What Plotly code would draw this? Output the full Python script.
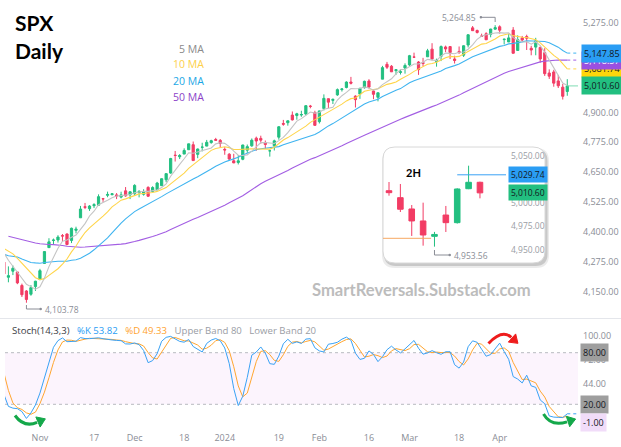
import plotly.graph_objects as go
import pandas as pd
import numpy as np

W, H = 621, 447

# ---------------- data ----------------
# closes before the first OHLC row (Aug 14 - Sep 22, 2023), used for the moving averages
pre_close = [4489.72, 4437.86, 4404.33, 4370.36, 4369.71, 4399.77, 4387.55, 4436.01, 4376.31, 4405.71,
             4433.31, 4497.63, 4514.87, 4507.66, 4515.77, 4496.83, 4465.48, 4451.14, 4457.49, 4487.46,
             4461.90, 4467.44, 4505.10, 4450.32, 4453.53, 4443.95, 4402.20, 4330.00, 4320.06]

# SPX daily OHLC, Sep 25 2023 - Apr 22 2024
opens = [4310.62, 4312.88, 4282.63, 4269.65, 4328.18,
         4284.52, 4282.40, 4233.83, 4259.31, 4234.79, 4289.02, 4339.75, 4366.59, 4380.94, 4360.49, 4342.37, 4345.23, 4357.35, 4321.36, 4273.85,
         4210.40, 4235.79, 4232.42, 4175.99, 4152.93, 4139.39, 4171.33,
         4201.27, 4268.26, 4334.23, 4364.27, 4366.21, 4384.37, 4391.41, 4364.15, 4406.66, 4458.97, 4505.30, 4497.08, 4509.55, 4511.70, 4538.77, 4553.04, 4555.84, 4554.86, 4545.55, 4571.84, 4554.87,
         4559.43, 4564.37, 4557.25, 4586.23, 4568.84, 4576.20, 4593.39, 4618.30, 4646.20, 4721.04, 4714.23, 4725.58, 4743.72, 4764.73, 4724.29, 4753.92, 4758.86, 4773.45, 4786.44, 4782.88,
         4745.20, 4725.07, 4697.42, 4690.57, 4703.70, 4741.93, 4759.94, 4792.13, 4791.18, 4772.35, 4739.13, 4760.10, 4796.28, 4853.42, 4856.80, 4888.56, 4886.66, 4888.91, 4892.95, 4925.89, 4899.19,
         4861.11, 4916.06, 4957.19, 4950.16, 4973.05, 4995.16, 5004.17, 5026.83, 4967.94, 4976.44, 5003.14, 5031.13, 4989.32, 4963.03, 5038.83, 5100.92, 5093.00, 5074.60, 5067.20, 5085.36,
         5098.51, 5130.99, 5110.52, 5108.03, 5132.38, 5164.46, 5111.96, 5134.30, 5173.49, 5175.14, 5123.31, 5154.77, 5139.09, 5181.69, 5253.43, 5242.48, 5219.52, 5228.85, 5226.31, 5248.03,
         5257.97, 5204.29, 5194.37, 5244.05, 5158.95, 5211.37, 5217.03, 5167.88, 5172.95, 5171.51, 5149.67, 5064.59, 5068.97, 5031.52, 5005.44, 4987.33]
highs = [4338.51, 4313.01, 4292.07, 4317.27, 4333.15,
         4300.58, 4282.40, 4268.50, 4267.13, 4324.10, 4341.73, 4385.46, 4378.64, 4385.85, 4377.10, 4383.33, 4393.57, 4364.20, 4339.54, 4276.56,
         4255.84, 4259.38, 4232.42, 4183.60, 4156.70, 4177.47, 4195.55,
         4245.64, 4319.72, 4373.62, 4372.21, 4386.26, 4391.20, 4393.40, 4418.03, 4421.76, 4508.67, 4521.17, 4511.99, 4520.12, 4557.11, 4542.14, 4568.43, 4560.31, 4562.41, 4568.14, 4587.64, 4569.89,
         4599.39, 4574.06, 4578.56, 4590.74, 4590.92, 4609.23, 4623.71, 4643.93, 4709.69, 4738.57, 4725.53, 4749.52, 4768.69, 4778.01, 4748.71, 4772.94, 4784.72, 4785.39, 4793.30, 4788.43,
         4754.33, 4729.29, 4726.78, 4721.49, 4764.54, 4765.47, 4790.80, 4798.50, 4802.40, 4782.34, 4744.23, 4785.79, 4842.07, 4868.41, 4866.48, 4903.68, 4898.15, 4906.69, 4929.31, 4931.09, 4906.75,
         4906.97, 4975.29, 4957.19, 4957.77, 4999.89, 5000.40, 5030.06, 5048.39, 4971.30, 5002.52, 5032.72, 5038.70, 4993.71, 4983.21, 5094.39, 5111.06, 5097.66, 5080.69, 5077.37, 5104.99,
         5140.33, 5149.67, 5114.54, 5127.97, 5165.62, 5189.26, 5124.66, 5179.87, 5179.14, 5176.85, 5136.86, 5175.60, 5180.31, 5226.19, 5261.10, 5246.09, 5229.09, 5235.16, 5249.26, 5264.85,
         5263.95, 5208.34, 5228.75, 5256.59, 5222.18, 5219.57, 5224.81, 5178.43, 5211.78, 5175.03, 5168.43, 5079.84, 5077.96, 5056.66, 5019.02, 5038.84]
lows = [4302.70, 4265.98, 4238.63, 4264.38, 4274.86,
        4260.21, 4216.45, 4220.48, 4225.91, 4219.55, 4283.79, 4339.64, 4345.34, 4325.43, 4311.97, 4342.37, 4337.54, 4303.84, 4269.69, 4223.03,
        4189.22, 4219.43, 4181.42, 4127.90, 4103.78, 4132.94, 4153.12,
        4197.74, 4268.26, 4334.23, 4347.53, 4355.41, 4359.76, 4343.94, 4353.34, 4393.82, 4458.97, 4495.31, 4487.83, 4499.66, 4510.36, 4525.51, 4545.05, 4552.80, 4537.24, 4540.51, 4547.15, 4537.24,
        4554.71, 4544.48, 4551.68, 4546.50, 4565.22, 4574.06, 4593.39, 4608.09, 4643.23, 4694.34, 4704.69, 4725.58, 4743.72, 4697.82, 4708.35, 4736.77, 4758.45, 4768.90, 4780.98, 4751.99,
        4722.67, 4699.71, 4687.53, 4682.11, 4699.82, 4730.35, 4756.20, 4739.58, 4768.98, 4747.12, 4714.82, 4740.57, 4785.87, 4844.05, 4844.37, 4865.94, 4869.34, 4881.47, 4887.40, 4916.95, 4845.15,
        4853.52, 4907.99, 4918.09, 4934.88, 4969.05, 4987.09, 5000.34, 5016.83, 4920.31, 4956.45, 4999.44, 4999.52, 4955.02, 4946.00, 5038.83, 5081.46, 5068.91, 5057.29, 5058.35, 5061.89,
        5094.16, 5127.18, 5056.82, 5092.22, 5131.59, 5117.50, 5091.14, 5114.48, 5151.88, 5123.30, 5104.35, 5145.47, 5131.59, 5171.55, 5240.66, 5229.87, 5216.09, 5203.42, 5213.92, 5245.82,
        5229.20, 5184.05, 5194.37, 5146.06, 5157.21, 5197.35, 5160.78, 5138.70, 5138.77, 5107.94, 5052.47, 5039.83, 5007.25, 5001.89, 4953.56, 4969.40]
closes = [4337.44, 4273.53, 4274.51, 4299.70, 4288.05,
          4288.39, 4229.45, 4263.75, 4258.19, 4308.50, 4335.66, 4358.24, 4376.95, 4349.61, 4327.78, 4373.63, 4373.20, 4314.60, 4278.00, 4224.16,
          4217.04, 4247.68, 4186.77, 4137.23, 4117.37, 4166.82, 4193.80,
          4237.86, 4317.78, 4358.34, 4365.98, 4378.38, 4382.78, 4347.35, 4415.24, 4411.55, 4495.70, 4502.88, 4508.24, 4514.02, 4547.38, 4538.19, 4556.62, 4559.34, 4550.43, 4554.89, 4550.58, 4567.80,
          4594.63, 4569.78, 4567.18, 4549.34, 4585.59, 4604.37, 4622.44, 4643.70, 4707.09, 4719.55, 4719.19, 4740.56, 4768.37, 4698.35, 4746.75, 4754.63, 4774.75, 4781.58, 4783.35, 4769.83,
          4742.83, 4704.81, 4688.68, 4697.24, 4763.54, 4756.50, 4783.45, 4780.24, 4783.83, 4765.98, 4739.21, 4780.94, 4839.81, 4850.43, 4864.60, 4868.55, 4894.16, 4890.97, 4927.93, 4924.97, 4845.65,
          4906.19, 4958.61, 4942.81, 4954.23, 4995.06, 4997.91, 5026.61, 5021.84, 4953.17, 5000.62, 5029.73, 5005.57, 4975.51, 4981.80, 5087.03, 5088.80, 5069.53, 5078.18, 5069.76, 5096.27,
          5137.08, 5130.95, 5078.65, 5104.76, 5157.36, 5123.69, 5117.94, 5175.27, 5165.31, 5150.48, 5117.09, 5149.42, 5178.51, 5224.62, 5241.53, 5234.18, 5218.19, 5203.58, 5248.49, 5254.35,
          5243.77, 5205.81, 5211.49, 5147.21, 5204.34, 5202.39, 5209.91, 5160.64, 5199.06, 5123.41, 5061.82, 5051.41, 5022.21, 5011.12, 4967.23, 5010.60]

holidays = ['2023-11-23', '2023-12-25', '2024-01-01', '2024-01-15', '2024-02-19', '2024-03-29']
dates = [d.strftime('%Y-%m-%d') for d in pd.bdate_range('2023-09-25', '2024-04-22')
         if d.strftime('%Y-%m-%d') not in holidays]
N_PRE = 20  # sessions before Oct 23 2023 (first session drawn in full)

tick_dates = ['2023-11-01', '2023-11-17', '2023-12-01', '2023-12-18', '2024-01-02', '2024-01-19',
              '2024-02-01', '2024-02-16', '2024-03-01', '2024-03-18', '2024-04-01']
tick_text = ['Nov', '17', 'Dec', '18', '2024', '19', 'Feb', '16', 'Mar', '18', 'Apr']

price_ticks = [4150, 4275, 4400, 4525, 4650, 4775, 4900, 5275]
stoch_ticks = [100, 72, 44]
stoch_bands = [80, 20]
stoch_mark = -1.0

ma_periods = [50, 20, 10, 5]
ma_colors = {5: '#c4c4c4', 10: '#ffd54a', 20: '#3fb4f0', 50: '#a35ee3'}
ma_label_colors = {5: '#8a8a8a', 10: '#fdd048', 20: '#1ba7e6', 50: '#8c3fc8'}

# 2H inset
h2_open = [5012.9, 5005.5, 4993.5, 4980.8, 4964.5, 4987.1, 4979.0, 5015.0, 5021.8]
h2_high = [5022.1, 5020.0, 4997.7, 5000.2, 4969.2, 4996.7, 5015.5, 5039.4, 5022.5]
h2_low = [5007.6, 4990.3, 4964.9, 4954.6, 4953.56, 4969.1, 4978.0, 5014.5, 5004.8]
h2_close = [5010.8, 4993.2, 4980.8, 4965.9, 4966.5, 4979.0, 5014.7, 5021.8, 5010.60]
h2_ticks = [4950, 4975, 5000, 5050]
h2_level_blue = 5029.74
h2_level_orange = 4962.4

GREEN = '#22bf80'
RED = '#f23c64'

# ---------------- derived ----------------
assert len(dates) == len(opens) == len(highs) == len(lows) == len(closes)
xi = np.arange(len(dates)) - N_PRE
c_all = pd.Series(pre_close + closes)
ma = {n: c_all.rolling(n).mean().iloc[len(pre_close):].to_numpy() for n in ma_periods}

hs, ls, cs = pd.Series(highs), pd.Series(lows), pd.Series(closes)
raw = 100 * (cs - ls.rolling(14).min()) / (hs.rolling(14).max() - ls.rolling(14).min())
k_line = raw.rolling(3).mean()
d_line = k_line.rolling(3).mean()

tick_idx = [dates.index(d) - N_PRE for d in tick_dates]

# ---------------- pixel geometry ----------------
X_PLOT0, X_PLOT1 = 5, 578          # plot area left/right (px)
BAR0_PX, BAR_DX = 8.4, 4.507       # px of first full session and px per session
P_TOP, P_BOT = 0, 318              # price pane (px)
S_TOP, S_BOT = 319, 428            # stochastic pane (px)
P_REF, P_REF_PX, P_SC = 5275, 22.7, 0.2391
S_REF, S_REF_PX, S_SC = 80, 352.7, 0.86
x_range = [(X_PLOT0 - BAR0_PX) / BAR_DX, (X_PLOT1 - BAR0_PX) / BAR_DX]
y_range = [P_REF - (P_BOT - P_REF_PX) / P_SC, P_REF + (P_REF_PX - P_TOP) / P_SC]
s_range = [S_REF - (S_BOT - S_REF_PX) / S_SC, S_REF + (S_REF_PX - S_TOP) / S_SC]

IN_X0, IN_X1, IN_Y0, IN_Y1 = 383, 506, 147, 263
IN_BAR0, IN_DX = 389, 11.37
IN_REF, IN_REF_PX, IN_SC = 5050, 155.7, 1 / 1.0604
in_xr = [(IN_X0 - IN_BAR0) / IN_DX, (IN_X1 - IN_BAR0) / IN_DX]
in_yr = [IN_REF - (IN_Y1 - IN_REF_PX) / IN_SC, IN_REF + (IN_REF_PX - IN_Y0) / IN_SC]


def fx(px):
    return px / W


def fy(py):
    return 1 - py / H


def dom_y(top, bot):
    return [fy(bot), fy(top)]


def pt(x, y):
    return f"{fx(x):.5f},{fy(y):.5f}"


# ---------------- figure ----------------
fig = go.Figure()

for n in ma_periods:
    fig.add_trace(go.Scatter(x=xi, y=ma[n], mode='lines', line=dict(color=ma_colors[n], width=1.1),
                             xaxis='x', yaxis='y', hoverinfo='skip'))

fig.add_trace(go.Candlestick(x=xi, open=opens, high=highs, low=lows, close=closes,
                             increasing=dict(line=dict(color=GREEN, width=1), fillcolor=GREEN),
                             decreasing=dict(line=dict(color=RED, width=1), fillcolor=RED),
                             whiskerwidth=0, xaxis='x', yaxis='y'))

fig.add_trace(go.Scatter(x=xi, y=d_line, mode='lines', line=dict(color='#ffa630', width=1),
                         xaxis='x2', yaxis='y2'))
fig.add_trace(go.Scatter(x=xi, y=k_line, mode='lines', line=dict(color='#3aa2f5', width=1),
                         xaxis='x2', yaxis='y2'))

fig.add_trace(go.Candlestick(x=list(range(len(h2_open))), open=h2_open, high=h2_high, low=h2_low, close=h2_close,
                             increasing=dict(line=dict(color=GREEN, width=1), fillcolor=GREEN),
                             decreasing=dict(line=dict(color=RED, width=1), fillcolor=RED),
                             whiskerwidth=0, xaxis='x3', yaxis='y3'))

axfont = dict(family='Open Sans', size=9, color='#8a8d96')
fig.update_layout(
    width=W, height=H, margin=dict(l=0, r=0, t=0, b=0), autosize=False,
    paper_bgcolor='white', plot_bgcolor='rgba(0,0,0,0)', showlegend=False,
    xaxis=dict(domain=[fx(X_PLOT0), fx(X_PLOT1)], range=x_range, anchor='y', showticklabels=False,
               showgrid=False, zeroline=False, rangeslider=dict(visible=False), fixedrange=True),
    yaxis=dict(domain=dom_y(P_TOP, P_BOT), range=y_range, side='right', anchor='x', tickvals=price_ticks,
               tickformat=',.2f', tickfont=axfont, showgrid=False, zeroline=False, ticks='',
               ticklabelstandoff=4),
    xaxis2=dict(domain=[fx(X_PLOT0), fx(X_PLOT1)], range=x_range, anchor='y2', tickvals=tick_idx,
                ticktext=tick_text, tickfont=axfont, showgrid=False, zeroline=False, ticks='',
                ticklabelstandoff=3),
    yaxis2=dict(domain=dom_y(S_TOP, S_BOT), range=s_range, side='right', anchor='x2', tickvals=stoch_ticks,
                tickformat='.2f', tickfont=axfont, showgrid=False, zeroline=False, ticks='',
                ticklabelstandoff=4),
    xaxis3=dict(domain=[fx(IN_X0), fx(IN_X1)], range=in_xr, anchor='y3', showticklabels=False,
                showgrid=False, zeroline=False, rangeslider=dict(visible=False)),
    yaxis3=dict(domain=dom_y(IN_Y0, IN_Y1), range=in_yr, side='right', anchor='x3', tickvals=h2_ticks,
                tickformat=',.2f', tickfont=dict(family='Open Sans', size=8.5, color='#9a9da5'),
                showgrid=False, zeroline=False, ticks='', ticklabelstandoff=4),
)

shapes = []


def rrect(x0, y0, x1, y1, r):
    return (f"M {pt(x0 + r, y0)} L {pt(x1 - r, y0)} Q {pt(x1, y0)} {pt(x1, y0 + r)} "
            f"L {pt(x1, y1 - r)} Q {pt(x1, y1)} {pt(x1 - r, y1)} L {pt(x0 + r, y1)} "
            f"Q {pt(x0, y1)} {pt(x0, y1 - r)} L {pt(x0, y0 + r)} Q {pt(x0, y0)} {pt(x0 + r, y0)} Z")


# separator between panes
shapes.append(dict(type='line', xref='paper', yref='paper', x0=0, x1=1, y0=fy(318.5), y1=fy(318.5),
                   line=dict(color='#e4e6eb', width=1)))
# stochastic band
shapes.append(dict(type='rect', xref='paper', yref='y2', x0=fx(X_PLOT0), x1=fx(X_PLOT1),
                   y0=stoch_bands[1], y1=stoch_bands[0], fillcolor='#fcf4fd', line=dict(width=0), layer='below'))
for b in stoch_bands:
    shapes.append(dict(type='line', xref='paper', yref='y2', x0=fx(X_PLOT0), x1=fx(X_PLOT1), y0=b, y1=b,
                       line=dict(color='#b8bac0', width=1, dash='dot'), layer='below'))

# inset card with a soft shadow
shapes.append(dict(type='path', path=rrect(IN_X0 - 1, IN_Y0 + 1, 546 + 3, 264 + 4, 13), xref='paper', yref='paper',
                   fillcolor='rgba(0,0,0,0.08)', line=dict(width=0), layer='below'))
shapes.append(dict(type='path', path=rrect(IN_X0 + 1, IN_Y0 + 2, 546 + 1.5, 264 + 2, 12), xref='paper', yref='paper',
                   fillcolor='rgba(0,0,0,0.15)', line=dict(width=0), layer='below'))
shapes.append(dict(type='path', path=rrect(IN_X0, IN_Y0, 545, 263, 12), xref='paper', yref='paper',
                   fillcolor='white', line=dict(color='#d8d8d8', width=1), layer='below'))
# inset levels
shapes.append(dict(type='line', xref='x3', yref='y3', x0=6, x1=in_xr[1], y0=h2_level_blue, y1=h2_level_blue,
                   line=dict(color='#3aa2f5', width=1)))
shapes.append(dict(type='line', xref='x3', yref='y3', x0=in_xr[0], x1=3.7, y0=h2_level_orange, y1=h2_level_orange,
                   line=dict(color='#f7a862', width=1)))
# inset low marker
lo_i = int(np.argmin(h2_low))
lo_px = IN_BAR0 + lo_i * IN_DX
shapes.append(dict(type='path', path=f"M {pt(lo_px, 250)} L {pt(lo_px, 255)} L {pt(lo_px + 15, 255)}",
                   xref='paper', yref='paper', line=dict(color='#8a8d96', width=1)))
shapes.append(dict(type='circle', xref='paper', yref='paper', x0=fx(lo_px + 14), x1=fx(lo_px + 16.5),
                   y0=fy(253.8), y1=fy(256.3), fillcolor='#8a8d96', line=dict(width=0)))

# main high / low markers
hi_i = int(np.argmax(highs))
hi_px = BAR0_PX + (hi_i - N_PRE) * BAR_DX
shapes.append(dict(type='path', path=f"M {pt(hi_px - 14, 17.3)} L {pt(hi_px, 17.3)} L {pt(hi_px, 22)}",
                   xref='paper', yref='paper', line=dict(color='#8a8d96', width=1)))
shapes.append(dict(type='circle', xref='paper', yref='paper', x0=fx(hi_px - 15.5), x1=fx(hi_px - 13),
                   y0=fy(16), y1=fy(18.5), fillcolor='#8a8d96', line=dict(width=0)))
lo_m = int(np.argmin(lows))
lo_mpx = BAR0_PX + (lo_m - N_PRE) * BAR_DX
shapes.append(dict(type='path', path=f"M {pt(lo_mpx, 305)} L {pt(lo_mpx, 309)} L {pt(lo_mpx + 14, 309)}",
                   xref='paper', yref='paper', line=dict(color='#8a8d96', width=1)))
shapes.append(dict(type='circle', xref='paper', yref='paper', x0=fx(lo_mpx + 13), x1=fx(lo_mpx + 15.5),
                   y0=fy(307.8), y1=fy(310.3), fillcolor='#8a8d96', line=dict(width=0)))

# last value extensions
last_x = xi[-1]
shapes.append(dict(type='line', xref='x', yref='y', x0=last_x, x1=x_range[1], y0=closes[-1], y1=closes[-1],
                   line=dict(color='#7fdcb3', width=1)))
for n in [20, 50, 10]:
    shapes.append(dict(type='line', xref='x', yref='y', x0=last_x, x1=x_range[1], y0=ma[n][-1], y1=ma[n][-1],
                       line=dict(color=ma_colors[n], width=1, dash='dot')))
shapes.append(dict(type='line', xref='x2', yref='y2', x0=last_x, x1=x_range[1], y0=k_line.iloc[-1],
                   y1=k_line.iloc[-1], line=dict(color='#3aa2f5', width=1, dash='dot')))


def arrow(p0, c, p1, color, L=8, w=5.5, lw=3):
    ux, uy = p1[0] - c[0], p1[1] - c[1]
    m = (ux ** 2 + uy ** 2) ** 0.5
    ux, uy = ux / m, uy / m
    nx, ny = -uy, ux
    tip = (p1[0] + ux * L, p1[1] + uy * L)
    b1 = (p1[0] + nx * w, p1[1] + ny * w)
    b2 = (p1[0] - nx * w, p1[1] - ny * w)
    shapes.append(dict(type='path', xref='paper', yref='paper',
                       path=f"M {pt(*p0)} Q {pt(*c)} {pt(p1[0] - ux, p1[1] - uy)}",
                       line=dict(color=color, width=lw)))
    shapes.append(dict(type='path', xref='paper', yref='paper',
                       path=f"M {pt(*tip)} L {pt(*b1)} L {pt(*b2)} Z",
                       fillcolor=color, line=dict(color=color, width=1)))


arrow((15, 415.5), (24, 428), (38, 422), '#14a84a')
arrow((488.5, 343.5), (502, 329), (512, 338), '#ee1c1c')
arrow((543.5, 414), (551, 427), (568, 421.5), '#14a84a')

fig.update_layout(shapes=shapes)

# ---------------- annotations ----------------
ann = []


def text(x, y, s, size, color, xanchor='left', family='Open Sans', bold=False, **kw):
    ann.append(dict(x=fx(x), y=fy(y), xref='paper', yref='paper', text=f"<b>{s}</b>" if bold else s,
                    showarrow=False, xanchor=xanchor, yanchor='middle',
                    font=dict(family=family, size=size, color=color), **kw))


text(13, 22.5, 'SPX', 21, '#000000', family='Lato', bold=True)
text(13, 51, 'Daily', 21, '#000000', family='Lato', bold=True)
for lab, n, yy in [('5 MA', 5, 49), ('10 MA', 10, 64.5), ('20 MA', 20, 81), ('50 MA', 50, 97.5)]:
    text(206, yy, lab, 10.5, ma_label_colors[n], xanchor='right')
text(421, 289.5, 'SmartReversals.Substack.com', 16.6, '#bcbcbc', xanchor='center', family='Lato', bold=True)
text(404, 172, '2H', 11, '#000000', family='Lato', bold=True)

sp = '&nbsp;&nbsp;&nbsp;'
text(10, 330, f'<span style="color:#3a3d45">Stoch(14,3,3)</span>{sp}<span style="color:#2a9df4">%K 53.82</span>{sp}'
              f'<span style="color:#ffa22e">%D 49.33</span>{sp}<span style="color:#9a9da5">Upper Band 80</span>{sp}'
              f'<span style="color:#9a9da5">Lower Band 20</span>', 9.6, '#3a3d45')

text(hi_px - 17, 17.3, f"{highs[hi_i]:,.2f}", 8.5, '#8a8d96', xanchor='right')
text(lo_mpx + 17, 309.5, f"{lows[lo_m]:,.2f}", 8.5, '#8a8d96')
text(lo_px + 17.5, 255.3, f"{min(h2_low):,.2f}", 8.5, '#8a8d96')


def tag(yref, yval, s, bg, fg='#131722', x=581, size=9):
    ann.append(dict(x=fx(x), y=yval, xref='paper', yref=yref, text=s, showarrow=False, xanchor='left',
                    yanchor='middle', bgcolor=bg, borderpad=2, font=dict(family='Open Sans', size=size, color=fg)))


tag('y', ma[10][-1], f"{ma[10][-1]:,.2f}", '#ffd60a')
tag('y', ma[50][-1], f"{ma[50][-1]:,.2f}", '#9b4fe0', fg='#ffffff')
tag('y', ma[20][-1], f"{ma[20][-1]:,.2f}", '#2a9df4')
tag('y', closes[-1], f"{closes[-1]:,.2f}", GREEN)
tag('y2', stoch_bands[0], f"{stoch_bands[0]:.2f}", '#9e9e9e', x=580)
tag('y2', stoch_bands[1], f"{stoch_bands[1]:.2f}", '#9e9e9e', x=580)
tag('y2', stoch_mark, f"{stoch_mark:.2f}", '#f1dcf9', x=580)
tag('y3', h2_level_blue, f"{h2_level_blue:,.2f}", '#2a9df4', x=508, size=8.5)
tag('y3', h2_close[-1], f"{h2_close[-1]:,.2f}", GREEN, x=508, size=8.5)

fig.update_layout(annotations=ann)

fig.write_html("out.html")
